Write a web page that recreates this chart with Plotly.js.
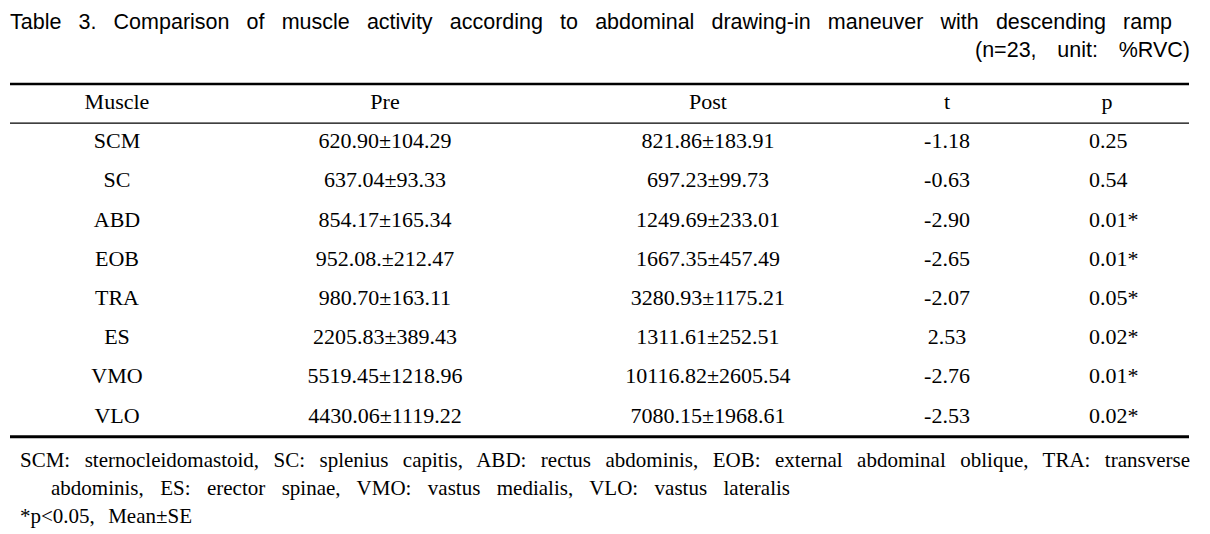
<!DOCTYPE html>
<html>
<head>
<meta charset="utf-8">
<script src="https://cdn.plot.ly/plotly-3.0.1.min.js"></script>
<style>
  html, body { margin: 0; padding: 0; background: #fff; }
  #table { width: 1210px; height: 534px; }
</style>
</head>
<body>
<div id="table"></div>
<script>
// table contents
var headers = ['Muscle', 'Pre', 'Post', 't', 'p'];
var muscles = ['SCM', 'SC', 'ABD', 'EOB', 'TRA', 'ES', 'VMO', 'VLO'];
var preVals = ['620.90±104.29', '637.04±93.33', '854.17±165.34', '952.08.±212.47',
               '980.70±163.11', '2205.83±389.43', '5519.45±1218.96', '4430.06±1119.22'];
var postVals = ['821.86±183.91', '697.23±99.73', '1249.69±233.01', '1667.35±457.49',
                '3280.93±1175.21', '1311.61±252.51', '10116.82±2605.54', '7080.15±1968.61'];
var tVals = ['-1.18', '-0.63', '-2.90', '-2.65', '-2.07', '2.53', '-2.76', '-2.53'];
var pVals = ['0.25', '0.54', '0.01*', '0.01*', '0.05*', '0.02*', '0.01*', '0.02*'];

var titleText = 'Table 3. Comparison of muscle activity according to abdominal drawing-in maneuver with descending ramp';
var unitText = '(n=23, unit: %RVC)';
var notes = [
    'SCM: sternocleidomastoid, SC: splenius capitis, ABD: rectus abdominis, EOB: external abdominal oblique, TRA: transverse',
    'abdominis, ES: erector spinae, VMO: vastus medialis, VLO: vastus lateralis',
    '*p<0.05, Mean±SE'
];

// layout helpers (x axis is in pixels, y axis counts rows: 0 = header)
var W = 1210, H = 534;
var rowTop = 103.5, rowStep = 39.2;
var colX = [117, 385, 708, 947, 1107];
var pLeft = 1089;
var serif = {family: 'Liberation Serif, Times New Roman, serif', size: 22, color: '#000'};

function py(p) { return 1 - p / H; }
function rowIdx(n) { var r = []; for (var i = 1; i <= n; i++) r.push(i); return r; }
function fill(v, n) { var r = []; for (var i = 0; i < n; i++) r.push(v); return r; }

var n = muscles.length;
var rows = rowIdx(n);

function col(x, vals, pos) {
    return {
        x: fill(x, vals.length), y: rows, text: vals,
        mode: 'text', textposition: pos || 'middle center',
        textfont: serif, hoverinfo: 'skip', showlegend: false, cliponaxis: false
    };
}

var data = [
    {x: colX, y: fill(0, headers.length), text: headers, mode: 'text',
     textposition: 'middle center', textfont: serif, hoverinfo: 'skip', showlegend: false, cliponaxis: false},
    col(colX[0], muscles),
    col(colX[1], preVals),
    col(colX[2], postVals),
    col(colX[3], tVals),
    col(pLeft, pVals, 'middle right')
];

function rule(y, w) {
    return {type: 'line', xref: 'x', yref: 'y', x0: 10, x1: 1189, y0: y, y1: y,
            line: {color: '#000', width: w}};
}

// target widths used to spread words like the printed table
var fitWidth = [1162, 215, 1170, 739, 172];

function note(text, x, yPix, font) {
    return {text: text, xref: 'x', yref: 'paper', x: x - 2, y: py(yPix),
            xanchor: 'left', yanchor: 'middle', align: 'left', showarrow: false, font: font};
}

var sans = {family: 'Liberation Sans, Arial, sans-serif', size: 21.5, color: '#000'};
var small = {family: 'Liberation Serif, Times New Roman, serif', size: 21, color: '#000'};

var layout = {
    width: W, height: H,
    margin: {l: 0, r: 0, t: 0, b: 0},
    paper_bgcolor: '#fff', plot_bgcolor: '#fff',
    xaxis: {range: [0, W], visible: false, fixedrange: true},
    yaxis: {range: [(H - rowTop) / rowStep, -rowTop / rowStep], visible: false, fixedrange: true},
    shapes: [rule(-0.5, 2.5), rule(0.5, 1.2), rule(n + 0.5, 3)],
    annotations: [
        note(titleText, 10, 21.5, sans),
        note(unitText, 975, 50, sans),
        note(notes[0], 20, 460, small),
        note(notes[1], 51, 488, small),
        note(notes[2], 20, 516, small)
    ]
};

Plotly.newPlot('table', data, layout, {staticPlot: true, displayModeBar: false}).then(function (gd) {
    fitWidth.forEach(function (w, i) {
        var el = gd.querySelector('g.annotation[data-index="' + i + '"] text.annotation-text');
        if (!el) return;
        var natural = el.getComputedTextLength();
        var gaps = (el.textContent.match(/ /g) || []).length;
        if (gaps && w > natural) el.style.wordSpacing = ((w - natural) / gaps) + 'px';
    });
});
</script>
</body>
</html>
